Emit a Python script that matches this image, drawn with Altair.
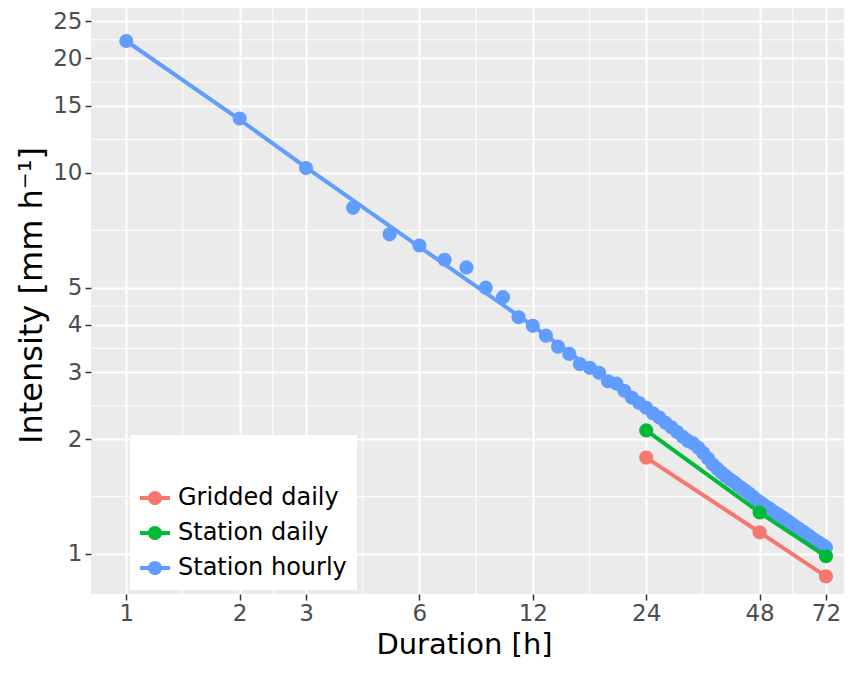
import altair as alt
import pandas as pd

# ---------------- data ----------------
series_names = ["Gridded daily", "Station daily", "Station hourly"]
series_colors = ["#F8766D", "#00BA38", "#619CFF"]

hourly_duration = list(range(1, 73))
hourly_intensity = [
    22.2, 13.9, 10.3, 8.1, 6.9, 6.45, 5.92, 5.65, 5.0, 4.72, 4.18, 3.97,
    3.74, 3.50, 3.35, 3.15, 3.08, 2.99, 2.84, 2.80, 2.68, 2.57, 2.49, 2.42,
    2.34, 2.28, 2.21, 2.15, 2.09, 2.03, 1.98, 1.95, 1.90, 1.84, 1.78, 1.72,
    1.675, 1.635, 1.60, 1.57, 1.545, 1.515, 1.49, 1.465, 1.44, 1.415, 1.39, 1.37,
    1.35, 1.33, 1.315, 1.295, 1.28, 1.265, 1.25, 1.235, 1.22, 1.205, 1.19, 1.175,
    1.165, 1.15, 1.14, 1.125, 1.115, 1.10, 1.09, 1.08, 1.07, 1.06, 1.05, 1.04,
]

daily_duration = [24, 48, 72]
station_daily_intensity = [2.11, 1.285, 0.986]
gridded_daily_intensity = [1.79, 1.14, 0.873]

fit_duration = [1, 2, 3, 6, 12, 24, 48, 72]
fit_intensity = [22.2, 13.8, 10.35, 6.4, 3.97, 2.40, 1.37, 1.03]

x_ticks = [1, 2, 3, 6, 12, 24, 48, 72]
y_ticks = [1, 2, 3, 4, 5, 10, 15, 20, 25]
x_minor = [1.414, 2.449, 4.243, 8.485, 16.97, 33.94, 58.79]
y_minor = [1.414, 2.449, 3.464, 4.472, 7.071, 12.25, 17.32, 22.36]

# ---------------- tables ----------------
points = pd.concat([
    pd.DataFrame({"series": "Station hourly", "duration": hourly_duration,
                  "intensity": hourly_intensity}),
    pd.DataFrame({"series": "Station daily", "duration": daily_duration,
                  "intensity": station_daily_intensity}),
    pd.DataFrame({"series": "Gridded daily", "duration": daily_duration,
                  "intensity": gridded_daily_intensity}),
], ignore_index=True)

lines = pd.concat([
    pd.DataFrame({"series": "Station hourly", "duration": fit_duration,
                  "intensity": fit_intensity}),
    pd.DataFrame({"series": "Station daily", "duration": daily_duration,
                  "intensity": station_daily_intensity}),
    pd.DataFrame({"series": "Gridded daily", "duration": daily_duration,
                  "intensity": gridded_daily_intensity}),
], ignore_index=True)

xscale = alt.Scale(type="log", domain=[0.806, 80.4], nice=False)
yscale = alt.Scale(type="log", domain=[0.785, 27.1], nice=False)
cscale = alt.Scale(domain=series_names, range=series_colors)

x_axis = alt.Axis(values=x_ticks, title="Duration [h]",
                  titleX=373, titleY=59, titleBaseline="alphabetic",
                  titleAlign="center", titleFontSize=29, labelPadding=2)
y_axis = alt.Axis(values=y_ticks, title="Intensity [mm h\u207b\u00b9]",
                  titleX=-60, titleY=287, titleAngle=270,
                  titleBaseline="middle", titleAlign="center",
                  titleFontSize=32, labelPadding=3)

X = alt.X("duration:Q", scale=xscale, axis=x_axis)
Y = alt.Y("intensity:Q", scale=yscale, axis=y_axis)

key_path = ("M-1,-0.13H1V0.13H-1Z "
            "M0.47,0A0.47,0.47,0,1,1,-0.47,0A0.47,0.47,0,1,1,0.47,0Z")

x_minor_grid = alt.Chart(pd.DataFrame({"duration": x_minor})).mark_rule(
    color="white", strokeWidth=1
).encode(x=X)

y_minor_grid = alt.Chart(pd.DataFrame({"intensity": y_minor})).mark_rule(
    color="white", strokeWidth=1
).encode(y=Y)

pts = alt.Chart(points).mark_circle(size=200, opacity=1).encode(
    x=X, y=Y,
    color=alt.Color("series:N", scale=cscale,
                    legend=alt.Legend(
                        title=" ", orient="none", legendX=39, legendY=427,
                        fillColor="white", padding=10, titleFontSize=24,
                        titlePadding=14, symbolType=key_path, symbolSize=900,
                        symbolStrokeWidth=0, symbolOpacity=1, rowPadding=8,
                        labelOffset=8, labelFontSize=24, labelColor="#000000",
                        labelFont="DejaVu Sans", labelLimit=0)),
)

lns = alt.Chart(lines).mark_line(strokeWidth=4).encode(
    x=X, y=Y,
    color=alt.Color("series:N", scale=cscale),
)

chart = alt.layer(x_minor_grid, y_minor_grid, pts, lns).properties(
    width=753, height=586,
    autosize=alt.AutoSizeParams(type="none"),
    padding={"left": 83, "top": 0, "right": 0, "bottom": 66},
    background="white",
).configure_view(
    fill="#EBEBEB", stroke=None
).configure_axis(
    labelFont="DejaVu Sans", labelFontSize=23, labelColor="#4D4D4D",
    tickColor="#333333", tickSize=6, tickWidth=1.5, domain=False,
    grid=True, gridColor="white", gridWidth=2,
    titleFont="DejaVu Sans", titleColor="#000000",
    titleFontWeight="normal",
)

chart.save("out.html", embed_options={"renderer": "svg", "actions": False})
